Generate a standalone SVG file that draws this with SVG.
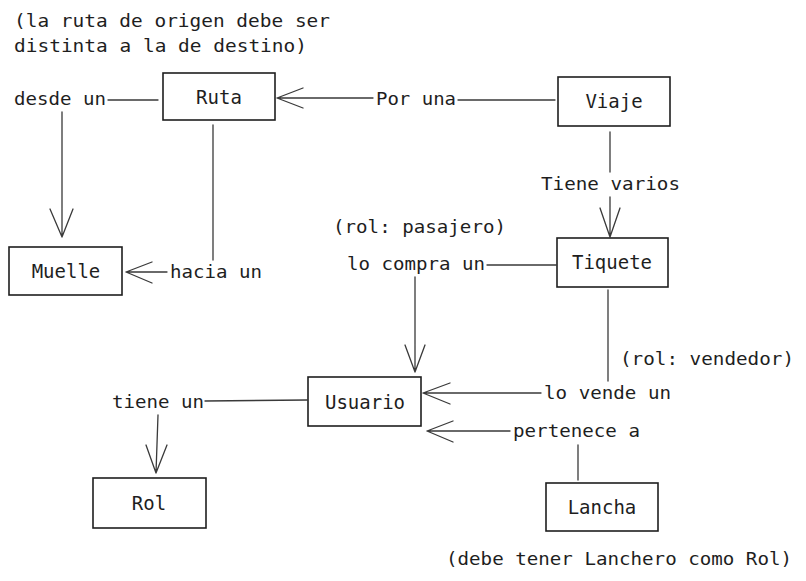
<svg xmlns="http://www.w3.org/2000/svg" width="806" height="581" viewBox="0 0 806 581">
<style>
text{font-family:"DejaVu Sans Mono","Liberation Mono",monospace;font-size:18.5px;fill:#1e1e1e}
.box{fill:#fff;stroke:#1e1e1e;stroke-width:1.6}
.c{fill:none;stroke:#3a3a3a;stroke-width:1.3;stroke-linecap:round;stroke-linejoin:round}
.m{text-anchor:middle;font-size:19px}
</style>
<rect width="806" height="581" fill="#fff"/>
<g id="connectors">
<path class="c" d="M108 100H158"/>
<path class="c" d="M62 112V237M50 209L62 237L73 209"/>
<path class="c" d="M213 125V260"/>
<path class="c" d="M167 272H126M152 262L126 272L152 283"/>
<path class="c" d="M458 100H555"/>
<path class="c" d="M373 98H277M303 88L277 98L303 108"/>
<path class="c" d="M610 132V172"/>
<path class="c" d="M610 197V237M600 208L610 237L620 208"/>
<path class="c" d="M487 265H556"/>
<path class="c" d="M415 277V372M405 345L415 372L425 345"/>
<path class="c" d="M608 290V381"/>
<path class="c" d="M541 393H423M450 383L423 393L450 404"/>
<path class="c" d="M510 431H427M453 421L427 431L453 442"/>
<path class="c" d="M578 445V480"/>
<path class="c" d="M205 401L307 400"/>
<path class="c" d="M158 415L156 473M146 445L156 473L167 445"/>
</g>
<g id="Ruta"><rect class="box" x="163" y="73" width="112" height="47"/><text class="m" x="219" y="104">Ruta</text></g>
<g id="Viaje"><rect class="box" x="558" y="77" width="112" height="49"/><text class="m" x="614" y="108">Viaje</text></g>
<g id="Tiquete"><rect class="box" x="557" y="238" width="111" height="49"/><text class="m" x="612" y="269">Tiquete</text></g>
<g id="Muelle"><rect class="box" x="9" y="247" width="113" height="48"/><text class="m" x="66" y="278">Muelle</text></g>
<g id="Usuario"><rect class="box" x="308" y="377" width="113" height="49"/><text class="m" x="365" y="409">Usuario</text></g>
<g id="Rol"><rect class="box" x="93" y="478" width="113" height="50"/><text class="m" x="149" y="510">Rol</text></g>
<g id="Lancha"><rect class="box" x="546" y="483" width="112" height="48"/><text class="m" x="602" y="514">Lancha</text></g>
<g id="labels">
<text x="14" y="27" textLength="316" lengthAdjust="spacingAndGlyphs">(la ruta de origen debe ser</text>
<text x="14" y="52" textLength="293" lengthAdjust="spacingAndGlyphs">distinta a la de destino)</text>
<text x="14" y="105" textLength="92" lengthAdjust="spacingAndGlyphs">desde un</text>
<text x="170" y="278" textLength="92" lengthAdjust="spacingAndGlyphs">hacia un</text>
<text x="376" y="105" textLength="80" lengthAdjust="spacingAndGlyphs">Por una</text>
<text x="541" y="190" textLength="139" lengthAdjust="spacingAndGlyphs">Tiene varios</text>
<text x="333" y="233" textLength="173" lengthAdjust="spacingAndGlyphs">(rol: pasajero)</text>
<text x="347" y="270" textLength="138" lengthAdjust="spacingAndGlyphs">lo compra un</text>
<text x="620" y="365" textLength="174" lengthAdjust="spacingAndGlyphs">(rol: vendedor)</text>
<text x="544" y="399" textLength="127" lengthAdjust="spacingAndGlyphs">lo vende un</text>
<text x="513" y="437" textLength="127" lengthAdjust="spacingAndGlyphs">pertenece a</text>
<text x="112" y="408" textLength="92" lengthAdjust="spacingAndGlyphs">tiene un</text>
<text x="446" y="565" textLength="346" lengthAdjust="spacingAndGlyphs">(debe tener Lanchero como Rol)</text>
</g>
</svg>
